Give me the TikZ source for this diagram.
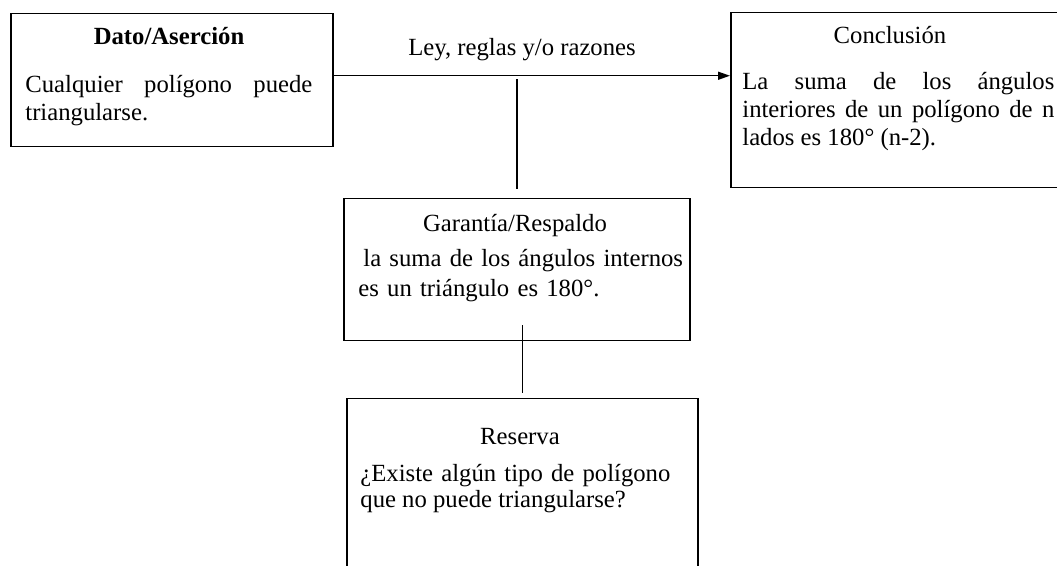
\documentclass[tikz,border=0pt]{standalone}
\usepackage{fontspec}
\setmainfont{Liberation Serif}
\usetikzlibrary{arrows.meta}
\hyphenpenalty=10000
\tolerance=9999

\begin{document}
\begin{tikzpicture}[x=0.5pt,y=-0.5pt]
\tikzset{caja/.style = {draw=black, line width=0.75pt, inner sep=0pt, anchor=north west}}
\tikzset{titulo/.style = {inner sep=0pt, anchor=base, font=\fontsize{12.35}{14}\selectfont}}
\tikzset{cuerpo/.style = {inner sep=0pt, anchor=base west, align=justify, font=\fontsize{12.35}{14}\selectfont}}
\tikzset{linea/.style = {line width=0.75pt}}
\tikzset{flecha/.style = {line width=0.75pt, -{Triangle[length=6pt,width=4pt]}}}

\useasboundingbox (0,0) rectangle (1057,566);
\clip (0,0) rectangle (1057,566);

    \node[caja, minimum width=161pt, minimum height=66.5pt] (dato) at (10,13) {};
    \node[caja, minimum width=167.5pt, minimum height=87.5pt] (concl) at (730,12) {};
    \node[caja, minimum width=173pt, minimum height=71pt] (garantia) at (343,198) {};
    \node[caja, minimum width=175.5pt, minimum height=105pt] (reserva) at (346,398) {};

    \node[titulo] (datotit) at (169,45) {\bfseries Dato/Aserción};
    \node[cuerpo, text width=143.5pt] (datotxt) at (25,93) {Cualquier polígono puede triangularse.};

    \node[titulo] (concltit) at (890,44) {Conclusión};
    \node[cuerpo, text width=156pt] (concltxt) at (742,90) {La suma de los ángulos\linebreak interiores de un polígono de n\linebreak lados es 180° (n-2).};

    \node[titulo] (garantiatit) at (515,232) {Garantía/Respaldo};
    \node[cuerpo, text width=171pt, align=left, font=\fontsize{12.35}{15}\selectfont] (garantiatxt) at (358,267) {\hspace*{2.5pt}la suma de los ángulos internos es un triángulo es 180°.};

    \node[titulo] (reservatit) at (520,445) {Reserva};
    \node[cuerpo, text width=155pt, font=\fontsize{12.35}{13}\selectfont] (reservatxt) at (360,482) {¿Existe algún tipo de polígono que no puede triangularse?};

\coordinate (salida) at ([yshift=2.25pt]dato.east);
\draw[flecha] (salida) -- (salida -| concl.west);
    \node[titulo] (ley) at (522,56) {Ley, reglas y/o razones};

\draw[linea] (garantia.north) ++(0,-9) -- ++(0,-110);
\draw[linea] (reserva.north) ++(0,-5) -- ++(0,-68);
\end{tikzpicture}
\end{document}
